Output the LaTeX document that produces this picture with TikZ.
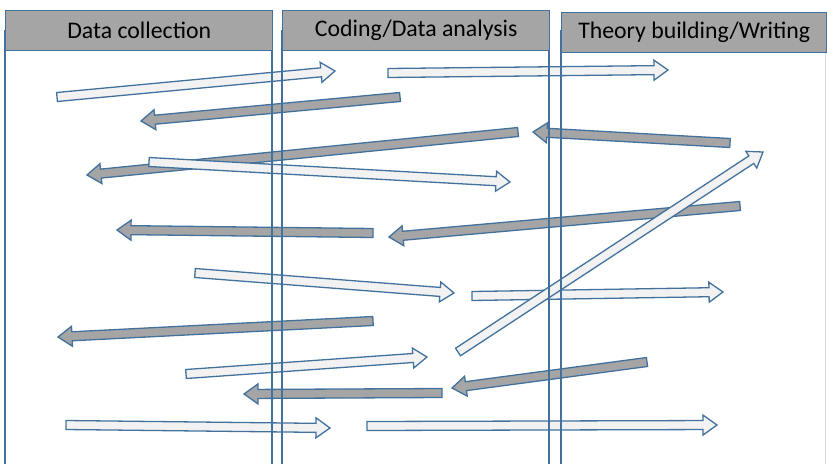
\documentclass[tikz,border=0pt]{standalone}
\usepackage{fontspec}
\setmainfont{Carlito}
\usetikzlibrary{calc}

\definecolor{edgeblue}{HTML}{41719C}
\definecolor{boxgray}{HTML}{A5A5A5}
\definecolor{paper}{HTML}{F2F2F2}

\tikzset{
  colline/.style={draw=edgeblue, line width=1.4pt},
  head/.style={draw=edgeblue, fill=boxgray, line width=1.4pt, anchor=north west,
    minimum height=40pt, inner sep=0pt, font=\fontsize{23.8}{26}\selectfont},
  fwdarrow/.style={draw=edgeblue, fill=paper, line width=1.3pt, line join=miter},
  backarrow/.style={draw=edgeblue, fill=boxgray, line width=1.3pt, line join=miter}
}

% block arrow: style, tail, tip
\newcommand{\blkarrow}[3]{%
  \coordinate (tail) at (#2);
  \coordinate (tip) at (#3);
  \coordinate (hb) at ($(tip)!14pt!(tail)$);
  \draw[#1] ($(tail)!4.5pt!90:(tip)$) -- ($(hb)!4.5pt!-90:(tail)$)
    -- ($(hb)!10pt!-90:(tail)$) -- (tip) -- ($(hb)!10pt!90:(tail)$)
    -- ($(hb)!4.5pt!90:(tail)$) -- ($(tail)!4.5pt!-90:(tip)$) -- cycle;
}

\begin{document}
\begin{tikzpicture}[x=1pt,y=-1pt]
\useasboundingbox (0,0) rectangle (827,464);

\foreach \s/\ax/\ay/\bx/\by in {
  fwdarrow/57/97/335/71, fwdarrow/388/73/668/70,
  backarrow/400/97/141/121, backarrow/730/143/533/132,
  backarrow/518/132/87/175, fwdarrow/149/162/510/182,
  backarrow/740/206/389/237, backarrow/373/233/117/230,
  fwdarrow/195/273/454/293, fwdarrow/472/296/723/292,
  backarrow/373/321/58/337, fwdarrow/186/374/427/357,
  backarrow/647/362/452/388, backarrow/442/393/244/394,
  fwdarrow/66/425/330/428, fwdarrow/367/426/717/425,
  fwdarrow/458/352/763/152} % diagonal one last, on top
  \blkarrow{\s}{\ax,\ay}{\bx,\by};

% column borders
\foreach \x in {5,272,282,549,561}
  \draw[colline] (\x,30) -- (\x,464);
\draw[edgeblue!25, line width=1pt] (825,52) -- (825,464);

% headers
\node[head, minimum width=267pt] (dc) at (5,10) {Data collection};
\node[head, minimum width=267pt] (ca) at (282,10) {Coding/Data analysis};
\node[head, minimum width=265pt] (tb) at (561,12) {Theory building/Writing};
\end{tikzpicture}
\end{document}
